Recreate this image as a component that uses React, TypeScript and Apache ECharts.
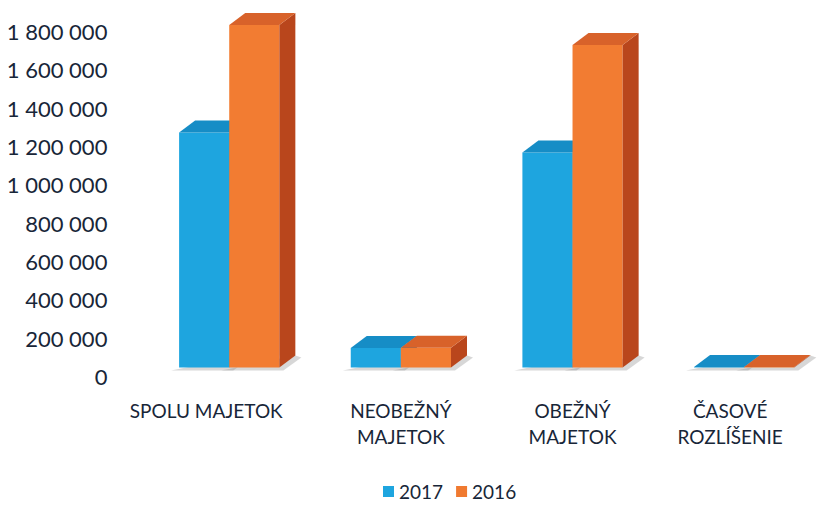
import React, { useEffect, useRef } from "react";
import * as echarts from "echarts";

const categories = ["SPOLU MAJETOK", "NEOBEŽNÝ\nMAJETOK", "OBEŽNÝ\nMAJETOK", "ČASOVÉ\nROZLÍŠENIE"];
const values2017 = [1226000, 102000, 1122000, 2000];
const values2016 = [1787000, 103000, 1682000, 2000];
const seriesNames = ["2017", "2016"];
const yTicks = { min: 0, max: 1800000, interval: 200000 };

const DX = 16;
const DY = -12;
const FLOOR = -9;
const FONT = "Lato";

const palette = [
  { front: "#1ea5df", top: "#168dc6", side: "#1278a8", legend: "#1ea5df" },
  { front: "#f27c32", top: "#d8622a", side: "#b9461c", legend: "#f07a30" },
];

function makeRender(sideIdx: number) {
  const c = palette[sideIdx];
  return (params: any, api: any) => {
    const idx = api.value(0);
    const val = api.value(1);
    const base = api.coord([idx, 0]);
    const top = api.coord([idx, val]);
    const band = api.size([1, 0])[0];
    const w = band * 0.292;
    const x0 = sideIdx === 0 ? base[0] - w : base[0];
    const x1 = x0 + w;
    const yb = base[1] + FLOOR;
    const yt = top[1] + FLOOR;
    return {
      type: "group",
      children: [
        {
          type: "polygon",
          shape: {
            points: [
              [x0 - 8, yb + 3],
              [x1 + 4, yb + 3],
              [x1 + DX + 6, yb + DY + 2],
              [x1 + DX, yb + DY],
            ],
          },
          style: { fill: "rgba(140,140,140,0.35)" },
        },
        {
          type: "rect",
          shape: { x: x0, y: yt, width: w, height: Math.max(0, yb - yt) },
          style: { fill: c.front },
        },
        {
          type: "polygon",
          shape: {
            points: [
              [x1, yb],
              [x1 + DX, yb + DY],
              [x1 + DX, yt + DY],
              [x1, yt],
            ],
          },
          style: { fill: c.side },
        },
        {
          type: "polygon",
          shape: {
            points: [
              [x0, yt],
              [x1, yt],
              [x1 + DX, yt + DY],
              [x0 + DX, yt + DY],
            ],
          },
          style: { fill: c.top },
        },
      ],
    };
  };
}

const TEXT = "#182638";

export default function App() {
  const ref = useRef<HTMLDivElement>(null);
  useEffect(() => {
    if (!ref.current) return;
    const chart = echarts.init(ref.current, undefined, { renderer: "svg" });
    const labelKey = ["a", "b", "b", "c"];
    const rs = { fontFamily: FONT, fontSize: 19, lineHeight: 26, color: TEXT };
    chart.setOption({
      animation: false,
      backgroundColor: "#ffffff",
      grid: { left: 143.4, top: 31.5, width: 704.8, height: 345, containLabel: false },
      legend: {
        left: 383,
        top: 482,
        padding: 0,
        itemWidth: 11,
        itemHeight: 11,
        itemGap: 13,
        icon: "rect",
        textStyle: { fontFamily: FONT, fontSize: 19, color: TEXT },
        data: seriesNames.map((n, i) => ({ name: n, itemStyle: { color: palette[i].legend } })),
      },
      xAxis: {
        type: "category",
        data: categories,
        axisLine: { show: false },
        axisTick: { show: false },
        splitLine: { show: false },
        axisLabel: {
          interval: 0,
          margin: 21,
          ...rs,
          formatter: (v: string, i: number) =>
            v
              .split("\n")
              .map((line) => `{${labelKey[i]}|${line}}`)
              .join("\n"),
          rich: {
            a: { ...rs, padding: [0, 46, 0, 0] },
            b: { ...rs },
            c: { ...rs, padding: [0, 28, 0, 0] },
          },
        },
      },
      yAxis: {
        type: "value",
        min: yTicks.min,
        max: yTicks.max,
        interval: yTicks.interval,
        axisLine: { show: false },
        axisTick: { show: false },
        splitLine: { show: false },
        axisLabel: {
          margin: 36,
          fontFamily: FONT,
          fontSize: 22,
          color: TEXT,
          formatter: (v: number) => String(v).replace(/\B(?=(\d{3})+(?!\d))/g, " "),
        },
      },
      series: [
        {
          name: seriesNames[0],
          type: "custom",
          renderItem: makeRender(0),
          itemStyle: { color: palette[0].legend },
          encode: { x: 0, y: 1 },
          clip: false,
          data: values2017.map((v, i) => [i, v]),
        },
        {
          name: seriesNames[1],
          type: "custom",
          renderItem: makeRender(1),
          itemStyle: { color: palette[1].legend },
          encode: { x: 0, y: 1 },
          clip: false,
          data: values2016.map((v, i) => [i, v]),
        },
      ],
    });
    return () => chart.dispose();
  }, []);
  return <div ref={ref} style={{ position: "absolute", left: 0, top: 0, width: 830, height: 505 }} />;
}
